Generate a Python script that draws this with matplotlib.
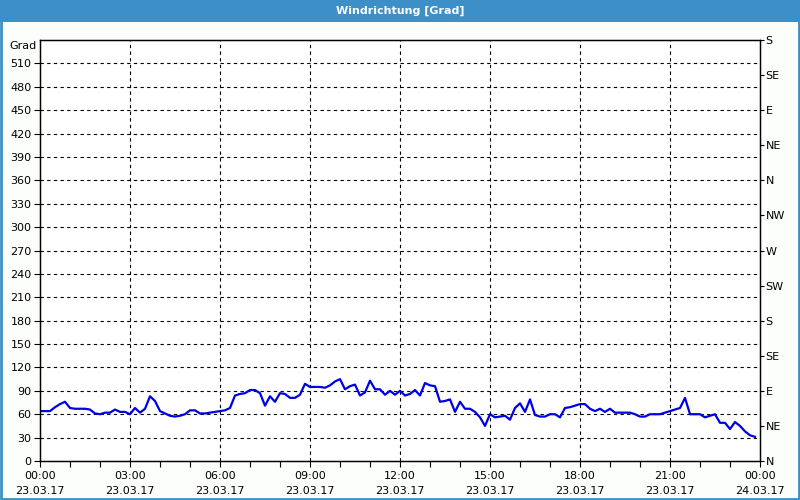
import numpy as np
import matplotlib
matplotlib.use("Agg")
import matplotlib.pyplot as plt
from matplotlib.patches import Rectangle

# wind direction, 10 minute values starting 23.03.17 00:00
minutes = np.arange(0, 1440, 10)
direction = [64, 64, 64, 69, 73, 76, 68, 67, 67, 67, 66, 61, 60, 62, 62, 66, 63, 63, 60, 68,
             62, 67, 83, 77, 64, 61, 58, 57, 58, 60, 65, 65, 61, 61, 62, 63, 64, 65, 68, 84,
             86, 87, 91, 91, 87, 71, 83, 76, 87, 86, 81, 81, 85, 99, 95, 95, 95, 94, 97, 102,
             105, 92, 96, 98, 84, 88, 103, 92, 92, 85, 90, 85, 90, 84, 86, 91, 84, 100, 97, 96,
             76, 77, 79, 63, 76, 67, 67, 63, 56, 45, 60, 56, 57, 58, 53, 68, 74, 63, 79, 59,
             57, 57, 60, 60, 56, 68, 69, 71, 73, 73, 67, 64, 67, 63, 67, 62, 62, 62, 62, 60,
             57, 57, 60, 60, 60, 62, 64, 66, 68, 81, 60, 60, 60, 56, 58, 60, 49, 49, 41, 50,
             45, 38, 33, 31]

x_ticks = [0, 3, 6, 9, 12, 15, 18, 21, 24]
x_labels = ["00:00\n23.03.17", "03:00\n23.03.17", "06:00\n23.03.17", "09:00\n23.03.17",
            "12:00\n23.03.17", "15:00\n23.03.17", "18:00\n23.03.17", "21:00\n23.03.17",
            "00:00\n24.03.17"]
y_ticks = list(range(0, 511, 30))
compass_ticks = list(range(0, 541, 45))
compass_labels = ["N", "NE", "E", "SE", "S", "SW", "W", "NW", "N", "NE", "E", "SE", "S"]

blue_bar = "#3c8fc7"

fig = plt.figure(figsize=(8, 5), dpi=100, facecolor="#fcfefc")

# title bar and window frame
fig.patches.append(Rectangle((0, 1 - 22 / 500), 1, 22 / 500, transform=fig.transFigure,
                             facecolor=blue_bar, edgecolor="none", zorder=0))
fig.patches.append(Rectangle((0.001, 0.002), 0.998, 0.99, transform=fig.transFigure,
                             facecolor="none", edgecolor=blue_bar, lw=2, zorder=0))
fig.text(0.5, 1 - 11 / 500, "Windrichtung [Grad]", color="white", fontsize=8,
         fontweight="bold", ha="center", va="center")

ax = fig.add_axes([40 / 800, 39 / 500, 720 / 800, 421 / 500])
ax.set_facecolor("white")

hours = minutes / 60.0
ax.plot(hours, direction, color="#0000e6", lw=1.6, zorder=3)

ax.set_xlim(0, 24)
ax.set_ylim(0, 540)

ax.set_xticks(x_ticks)
ax.set_xticklabels(x_labels, fontsize=8, linespacing=1.6)
ax.set_xticks(range(0, 25), minor=True)
ax.set_yticks(y_ticks)
ax.set_yticklabels([str(v) for v in y_ticks], fontsize=8)
ax.tick_params(axis="both", which="both", direction="out", length=4, width=0.8, pad=2,
               colors="black")
ax.tick_params(axis="x", which="major", pad=3)

for v in y_ticks[1:]:
    ax.axhline(v, color="black", lw=0.8, ls=(0, (3, 3)), zorder=1)
for v in x_ticks[1:-1]:
    ax.axvline(v, color="black", lw=0.8, ls=(0, (3, 3)), zorder=1)

for s in ax.spines.values():
    s.set_color("black")
    s.set_linewidth(1.0)

ax2 = ax.twinx()
ax2.set_ylim(0, 540)
ax2.set_yticks(compass_ticks)
ax2.set_yticklabels(compass_labels, fontsize=8)
ax2.tick_params(axis="y", direction="out", length=3, width=0.8, pad=1)

fig.text(37 / 800, 1 - 46 / 500, "Grad", fontsize=8, ha="right", va="center")

fig.savefig("out.png", dpi=100, facecolor=fig.get_facecolor())
